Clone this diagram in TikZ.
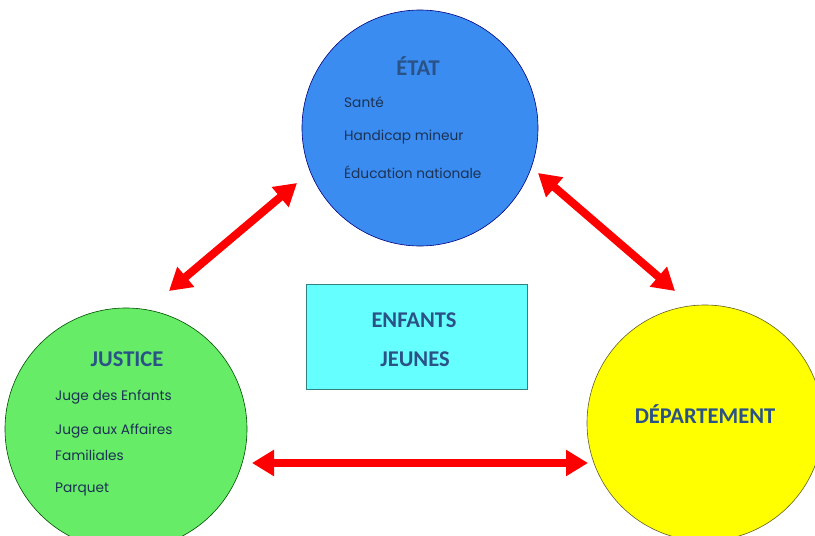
\documentclass[tikz,border=0pt]{standalone}
\usepackage{fontspec}
\setmainfont{Carlito}
\newfontfamily\bodyfont{Poppins}
\usetikzlibrary{arrows.meta}
\definecolor{cblue}{RGB}{58,140,240}
\definecolor{cgreen}{RGB}{102,236,102}
\definecolor{cyellow}{RGB}{255,255,0}
\definecolor{ccyan}{RGB}{102,255,255}
\definecolor{ctitle}{RGB}{42,82,135}
\definecolor{cbody}{RGB}{28,50,85}
\tikzset{
  bigcircle/.style={circle, minimum size=236pt, inner sep=0pt, line width=0.6pt},
  titletext/.style={font=\bfseries\fontsize{22.5}{26}\selectfont, text=ctitle, inner sep=0pt},
  bodytext/.style={font=\bodyfont\fontsize{13.7}{15}\selectfont, text=cbody, inner sep=0pt, anchor=west, align=left},
  redarrow/.style={draw=red, line width=8pt, {Triangle[width=25pt,length=22pt]}-{Triangle[width=25pt,length=22pt]}}
}
\begin{document}
\begin{tikzpicture}[x=1pt,y=-1pt]
\useasboundingbox (0,0) rectangle (815,536);
\fill[white] (0,0) rectangle (815,536);
\begin{scope}
\clip (0,0) rectangle (815,536);
\node[bigcircle, fill=cblue, draw=blue!50!black] (etat) at (420,128) {};
\node[bigcircle, fill=cgreen, draw=green!30!black, minimum size=242pt] (justice) at (126,429) {};
\node[bigcircle, fill=cyellow, draw=olive!60!black] (dept) at (705,423) {};
\end{scope}
\node[draw=teal!60!gray, fill=ccyan, line width=0.6pt, minimum width=221pt, minimum height=105pt, inner sep=0pt] (box) at (416.5,336.5) {};

\node[titletext] (t1) at (418,66) {ÉTAT};
\node[bodytext] (e1) at (344,102) {Santé};
\node[bodytext] (e2) at (344,137) {Handicap mineur};
\node[bodytext] (e3) at (344,172) {Éducation nationale};

\node[titletext] (t2) at (127,359) {JUSTICE};
\node[bodytext] (j1) at (55,397) {Juge des Enfants};
\node[bodytext] (j2) at (55,431) {Juge aux Affaires};
\node[bodytext] (j3) at (55,455) {Familiales};
\node[bodytext] (j4) at (55,490) {Parquet};

\node[titletext] (t3) at (705,414) {DÉPARTEMENT};

\node[titletext] (t4) at (414,320) {ENFANTS};
\node[titletext] (t5) at (415,359) {JEUNES};

\coordinate (a1) at (169,291);
\coordinate (a2) at (297,183);
\coordinate (b1) at (538,173);
\coordinate (b2) at (675,291);
\coordinate (c1) at (252,463);
\coordinate (c2) at (588,463);
\draw[redarrow] (a1) -- (a2);
\draw[redarrow] (b1) -- (b2);
\draw[redarrow] (c1) -- (c2);
\end{tikzpicture}
\end{document}
